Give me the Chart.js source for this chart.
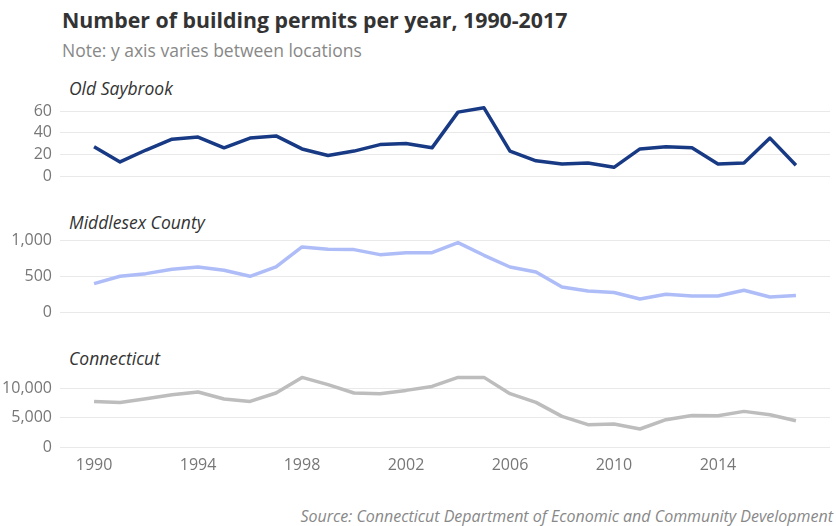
<!DOCTYPE html>
<html>
<head>
<meta charset="utf-8">
<script src="https://cdn.jsdelivr.net/npm/chart.js@4/dist/chart.umd.min.js"></script>
<style>
  html, body { margin: 0; padding: 0; background: #fff; }
  body { width: 836px; height: 526px; position: relative; overflow: hidden; font-family: 'Open Sans', sans-serif; }
  .txt { position: absolute; white-space: nowrap; }
  #title { left: 62px; top: 7px; font-size: 21.3px; line-height: 26px; font-weight: 700; color: #333; }
  #note { left: 62px; top: 38px; font-size: 17.5px; line-height: 24px; color: #888; }
  .panel-title { left: 69px; font-size: 17.5px; line-height: 22px; font-style: italic; color: #333; }
  #source { right: 3px; top: 505px; font-size: 16px; line-height: 22px; font-style: italic; color: #888; }
  canvas { position: absolute; left: 0; }
</style>
</head>
<body>
<div class="txt" id="title">Number of building permits per year, 1990-2017</div>
<div class="txt" id="note">Note: y axis varies between locations</div>
<div class="txt panel-title" style="top:77px">Old Saybrook</div>
<div class="txt panel-title" style="top:211px">Middlesex County</div>
<div class="txt panel-title" style="top:347px">Connecticut</div>
<canvas id="c1" width="836" height="92" style="top:96px"></canvas>
<canvas id="c2" width="836" height="95" style="top:228px"></canvas>
<canvas id="c3" width="836" height="109" style="top:367px"></canvas>
<div class="txt" id="source">Source: Connecticut Department of Economic and Community Development</div>
<script>
// Building permits issued per year
const years = [1990, 1991, 1992, 1993, 1994, 1995, 1996, 1997, 1998, 1999,
               2000, 2001, 2002, 2003, 2004, 2005, 2006, 2007, 2008, 2009,
               2010, 2011, 2012, 2013, 2014, 2015, 2016, 2017];

const oldSaybrook = [27, 13, 24, 34, 36, 26, 35, 37, 25, 19,
                     23, 29, 30, 26, 59, 63, 23, 14, 11, 12,
                     8, 25, 27, 26, 11, 12, 35, 10];

const middlesex = [396, 498, 535, 595, 628, 582, 498, 628, 907, 875,
                   870, 800, 828, 828, 968, 791, 628, 558, 349, 293,
                   271, 181, 247, 223, 223, 303, 209, 229];

const connecticut = [7820, 7650, 8280, 8970, 9430, 8230, 7820, 9260, 11940, 10690,
                     9260, 9140, 9710, 10390, 11940, 11940, 9140, 7650, 5250, 3830,
                     3950, 3090, 4680, 5420, 5370, 6110, 5540, 4510];

const yearTicks = [1990, 1994, 1998, 2002, 2006, 2010, 2014];
const saybrookTicks = [0, 20, 40, 60];
const middlesexTicks = [0, 500, 1000];
const connecticutTicks = [0, 5000, 10000];

const tickFont = { family: "'Open Sans', sans-serif", size: 16 };
const tickColor = '#777';

function panel(id, values, color, yMax, yTicks, showX, padBottom) {
  const points = years.map((yr, i) => ({ x: yr, y: values[i] }));
  return new Chart(document.getElementById(id), {
    type: 'line',
    data: {
      datasets: [{
        data: points,
        borderColor: color,
        borderWidth: 3.5,
        borderJoinStyle: 'round',
        borderCapStyle: 'butt',
        pointRadius: 0,
        tension: 0,
        clip: false
      }]
    },
    options: {
      responsive: false,
      animation: false,
      events: [],
      layout: { padding: { top: 8, right: 6, bottom: padBottom, left: 0 } },
      plugins: { legend: { display: false }, tooltip: { enabled: false } },
      scales: {
        x: {
          type: 'linear',
          min: 1988.69,
          max: 2018.31,
          display: showX,
          grid: { display: false, drawTicks: false },
          border: { display: false },
          afterBuildTicks: s => { s.ticks = yearTicks.map(v => ({ value: v })); },
          afterFit: s => {
            s.height = showX ? 29 : 0;
            s.paddingLeft = 0;
            s.paddingRight = 0;
          },
          ticks: {
            autoSkip: false,
            maxRotation: 0,
            padding: 9,
            font: tickFont,
            color: tickColor,
            callback: v => String(v)
          }
        },
        y: {
          min: 0,
          max: yMax,
          grid: { color: '#e9e9e9', lineWidth: 1, drawTicks: false },
          border: { display: false },
          afterBuildTicks: s => { s.ticks = yTicks.map(v => ({ value: v })); },
          afterFit: s => {
            s.width = 60;
            s.paddingTop = 0;
            s.paddingBottom = 0;
          },
          ticks: {
            autoSkip: false,
            padding: 8,
            font: tickFont,
            color: tickColor,
            callback: v => v.toLocaleString('en-US')
          }
        }
      }
    }
  });
}

panel('c1', oldSaybrook, '#183a84', 66.5, saybrookTicks, false, 12);
panel('c2', middlesex, '#aebdf7', 1060, middlesexTicks, false, 11);
panel('c3', connecticut, '#bdbdbd', 12350, connecticutTicks, true, 0);
</script>
</body>
</html>
